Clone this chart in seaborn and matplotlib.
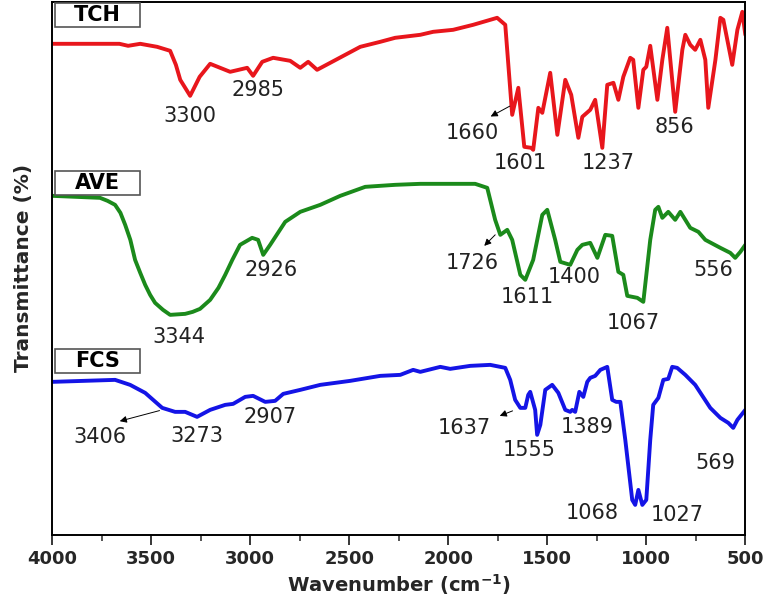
import numpy as np
import pandas as pd
import matplotlib
matplotlib.use("Agg")
import matplotlib.pyplot as plt
from matplotlib.patches import Rectangle
from matplotlib.ticker import MultipleLocator
import seaborn as sns

# -------------------------------
# Data (arbitrary transmittance units)
# -------------------------------
tch_wn = [4000, 3798, 3660, 3616, 3555, 3470, 3404, 3375, 3353, 3303, 3255, 3202, 3101,
          3015, 2985, 2939, 2884, 2798, 2747, 2707, 2662, 2444, 2343, 2268, 2141, 2076,
          1975, 1874, 1753, 1712, 1677, 1646, 1616, 1581, 1571, 1545, 1525, 1485, 1449,
          1409, 1379, 1343, 1323, 1283, 1258, 1222, 1197, 1166, 1141, 1116, 1081,
          1066, 1040, 1015, 1000, 980, 944, 919, 894, 854, 818, 803, 778, 753, 727,
          702, 687, 651, 626, 611, 566, 540, 515, 500]
tch_t = [491, 491, 491, 489, 491, 488, 484, 470, 455, 439, 458, 471, 463,
         467, 459, 473, 477, 474, 467, 473, 465, 488, 493, 497, 500, 503,
         505, 510, 517, 510, 420, 447, 388, 387, 385, 427, 422, 462, 400,
         455, 440, 397, 418, 425, 435, 387, 450, 452, 435, 458, 477,
         475, 427, 465, 468, 489, 435, 475, 507, 423, 485, 500, 490, 485, 495,
         475, 427, 475, 517, 515, 470, 505, 523, 500]

ave_wn = [4000, 3758, 3720, 3682, 3655, 3631, 3605, 3581, 3555, 3530, 3505, 3480,
          3440, 3404, 3328, 3290, 3253, 3202, 3160, 3126, 3090, 3051, 2990, 2960,
          2934, 2899, 2823, 2747, 2646, 2545, 2419, 2268, 2141, 1864, 1803, 1788,
          1763, 1737, 1702, 1677, 1636, 1611, 1571, 1525, 1500, 1460, 1434, 1384,
          1348, 1323, 1283, 1247, 1207, 1172, 1141, 1116, 1096, 1045, 1015, 980,
          955, 939, 919, 889, 854, 828, 778, 737, 702, 626, 576, 551, 525, 500]
ave_t = [339, 337, 334, 330, 322, 310, 295, 275, 262, 250, 240, 232,
         225, 220, 221, 223, 226, 235, 247, 260, 275, 290, 297, 295,
         280, 290, 313, 323, 330, 339, 348, 350, 351, 351, 347, 335,
         315, 300, 305, 295, 260, 255, 275, 320, 325, 295, 273, 270,
         285, 290, 292, 277, 300, 299, 263, 260, 239, 237, 233, 295,
         325, 328, 317, 323, 315, 323, 307, 303, 295, 287, 282, 277, 283, 290]

fcs_wn = [4000, 3682, 3606, 3530, 3444, 3379, 3328, 3268, 3202, 3126, 3086, 3025,
          2985, 2924, 2874, 2833, 2747, 2646, 2495, 2343, 2242, 2177, 2141, 2040,
          1990, 1889, 1788, 1712, 1687, 1662, 1636, 1611, 1596, 1586, 1561, 1551,
          1535, 1510, 1475, 1444, 1409, 1384, 1374, 1359, 1338, 1318, 1298, 1283,
          1258, 1232, 1197, 1172, 1152, 1131, 1106, 1071, 1056, 1040, 1020, 1000,
          980, 965, 939, 914, 889, 869, 844, 803, 753, 677, 626, 586, 561, 540, 500]
fcs_t = [153, 155, 150, 142, 127, 123, 123, 118, 125, 130, 131, 138,
         139, 133, 134, 141, 145, 150, 154, 159, 160, 165, 163, 168,
         166, 169, 170, 167, 155, 135, 127, 127, 140, 143, 125, 100,
         110, 145, 150, 142, 125, 123, 125, 123, 143, 138, 153, 157,
         159, 165, 168, 135, 133, 133, 95, 35, 30, 45, 30, 35,
         95, 130, 137, 155, 156, 168, 167, 160, 150, 127, 117, 112, 107, 115, 125]

series = ["TCH", "AVE", "FCS"]
colors = ["#e8161c", "#1b8a1b", "#1414e6"]

# peak labels: (text, wavenumber, transmittance)
labels = [
    ("3300", 3303, 419), ("2985", 2960, 445), ("1660", 1879, 402),
    ("1601", 1636, 372), ("1237", 1192, 372), ("856", 859, 408),
    ("2926", 2894, 265), ("3344", 3359, 198), ("1726", 1879, 272),
    ("1611", 1601, 238), ("1400", 1364, 258), ("1067", 1066, 212),
    ("556", 662, 265), ("3406", 3758, 98), ("3273", 3268, 99),
    ("2907", 2899, 118), ("1637", 1919, 107), ("1555", 1591, 85),
    ("1389", 1298, 108), ("569", 652, 72), ("1068", 1273, 22),
    ("1027", 844, 20),
]
# arrows: (curve point) -> (text end)
arrows = [
    ((1677, 430), (1798, 417)),
    ((1753, 302), (1828, 287)),
    ((1662, 125), (1753, 118)),
    ((3444, 125), (3672, 113)),
]

df = pd.concat([
    pd.DataFrame({"wn": tch_wn, "t": tch_t, "sample": "TCH"}),
    pd.DataFrame({"wn": ave_wn, "t": ave_t, "sample": "AVE"}),
    pd.DataFrame({"wn": fcs_wn, "t": fcs_t, "sample": "FCS"}),
])

# -------------------------------
# Plot
# -------------------------------
sns.set_style("white")
plt.rcParams['font.family'] = ['DejaVu Sans']

fig = plt.figure(figsize=(7.66, 6.01), dpi=100)
ax = fig.add_axes([0.068, 0.11, 0.905, 0.887])

sns.lineplot(data=df, x="wn", y="t", hue="sample", palette=dict(zip(series, colors)),
             estimator=None, sort=False, lw=2.8, legend=False, ax=ax)

ax.set_xlim(4000, 500)
ax.set_ylim(0, 533)
ax.set_yticks([])
ax.xaxis.set_major_locator(MultipleLocator(500))
ax.xaxis.set_minor_locator(MultipleLocator(250))
ax.tick_params(axis="x", which="major", direction="out", length=7, width=1.3,
               bottom=True, labelsize=13, pad=4)
ax.tick_params(axis="x", which="minor", direction="out", length=4, width=1.1, bottom=True)
for lab in ax.get_xticklabels():
    lab.set_fontweight("bold")
for sp in ax.spines.values():
    sp.set_color("black")
    sp.set_linewidth(1.4)

ax.set_xlabel("Wavenumber (cm$^{\\mathbf{-1}}$)", fontsize=14, fontweight="bold", labelpad=3)
ax.set_ylabel("Transmittance (%)", fontsize=14.5, fontweight="bold")
ax.yaxis.set_label_coords(-0.027, 0.5)

# sample name boxes
box_y = [508, 340, 162]
for name, y0 in zip(series, box_y):
    ax.add_patch(Rectangle((3556, y0), 429, 24, facecolor="white", edgecolor="#555555",
                           lw=1.2, zorder=3))
    ax.text(3770, y0 + 12, name, ha="center", va="center", fontsize=15,
            fontweight="bold", color="black", zorder=4)

for txt, x, y in labels:
    ax.text(x, y, txt, ha="center", va="center", fontsize=15, color="#222222")

for (x0, y0), (x1, y1) in arrows:
    ax.annotate("", xy=(x1, y1), xytext=(x0, y0),
                arrowprops=dict(arrowstyle="-|>", lw=0.7, color="black", mutation_scale=10))

fig.savefig("out.png", dpi=100)
